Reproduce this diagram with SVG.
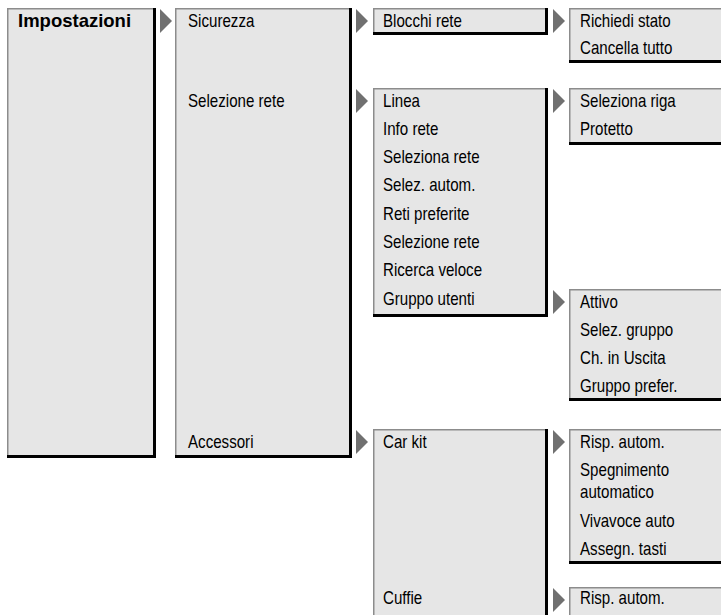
<svg xmlns="http://www.w3.org/2000/svg" width="721" height="615" viewBox="0 0 721 615">
<style>
.bg{fill:#e6e6e6}
.lt{fill:none;stroke:#8c8c8c;stroke-width:1.5}
.dk{fill:none;stroke:#000;stroke-width:3}
.t{font-family:"Liberation Sans",Arial,sans-serif;font-size:18px;fill:#000}
.b{font-family:"Liberation Sans",Arial,sans-serif;font-size:18.5px;font-weight:bold;fill:#000}
.ar{fill:#707070}
</style>
<rect width="721" height="615" fill="#fff"/>
<g id="connectors">
<path class="ar" d="M160 9L172 21L160 33Z"/>
<path class="ar" d="M356 9L368 21L356 33Z"/>
<path class="ar" d="M553 9L565 21L553 33Z"/>
<path class="ar" d="M356 89L368 101L356 113Z"/>
<path class="ar" d="M553 89L565 101L553 113Z"/>
<path class="ar" d="M553 290L565 302L553 314Z"/>
<path class="ar" d="M356 430L368 442L356 454Z"/>
<path class="ar" d="M553 430L565 442L553 454Z"/>
<path class="ar" d="M553 588L565 600L553 612Z"/>
</g>
<g id="impostazioni">
<rect class="bg" x="7" y="8" width="149" height="450"/>
<path class="lt" d="M7.75 458V8.75H156"/>
<path class="dk" d="M7 456.5H154.5V8"/>
<text class="b" x="18" y="27">Impostazioni</text>
</g>
<g id="col2">
<rect class="bg" x="175" y="8" width="177" height="450"/>
<path class="lt" d="M175.75 458V8.75H352"/>
<path class="dk" d="M175 456.5H350.5V8"/>
<text class="t" transform="translate(188,26.5) scale(0.84,1)">Sicurezza</text>
<text class="t" transform="translate(188,106.5) scale(0.84,1)">Selezione rete</text>
<text class="t" transform="translate(188,447.5) scale(0.84,1)">Accessori</text>
</g>
<g id="blocchi">
<rect class="bg" x="373" y="8" width="175" height="27"/>
<path class="lt" d="M373.75 35V8.75H548"/>
<path class="dk" d="M373 33.5H546.5V8"/>
<text class="t" transform="translate(383,26.5) scale(0.84,1)">Blocchi rete</text>
</g>
<g id="stato">
<rect class="bg" x="569" y="8" width="155" height="55"/>
<path class="lt" d="M569.75 63V8.75H724"/>
<path class="dk" d="M569 61.5H724"/>
<text class="t" transform="translate(580,26.5) scale(0.84,1)">Richiedi stato</text>
<text class="t" transform="translate(580,54) scale(0.84,1)">Cancella tutto</text>
</g>
<g id="linea">
<rect class="bg" x="373" y="88" width="175" height="229"/>
<path class="lt" d="M373.75 317V88.75H548"/>
<path class="dk" d="M373 315.5H546.5V88"/>
<text class="t" transform="translate(383,106.5) scale(0.84,1)">Linea</text>
<text class="t" transform="translate(383,134.8) scale(0.84,1)">Info rete</text>
<text class="t" transform="translate(383,163.1) scale(0.84,1)">Seleziona rete</text>
<text class="t" transform="translate(383,191.4) scale(0.84,1)">Selez. autom.</text>
<text class="t" transform="translate(383,219.7) scale(0.84,1)">Reti preferite</text>
<text class="t" transform="translate(383,248) scale(0.84,1)">Selezione rete</text>
<text class="t" transform="translate(383,276.3) scale(0.84,1)">Ricerca veloce</text>
<text class="t" transform="translate(383,304.6) scale(0.84,1)">Gruppo utenti</text>
</g>
<g id="riga">
<rect class="bg" x="569" y="88" width="155" height="57"/>
<path class="lt" d="M569.75 145V88.75H724"/>
<path class="dk" d="M569 143.5H724"/>
<text class="t" transform="translate(580,106.5) scale(0.84,1)">Seleziona riga</text>
<text class="t" transform="translate(580,134.8) scale(0.84,1)">Protetto</text>
</g>
<g id="attivo">
<rect class="bg" x="569" y="289" width="155" height="112"/>
<path class="lt" d="M569.75 401V289.75H724"/>
<path class="dk" d="M569 399.5H724"/>
<text class="t" transform="translate(580,307.5) scale(0.84,1)">Attivo</text>
<text class="t" transform="translate(580,335.8) scale(0.84,1)">Selez. gruppo</text>
<text class="t" transform="translate(580,364.1) scale(0.84,1)">Ch. in Uscita</text>
<text class="t" transform="translate(580,392.4) scale(0.84,1)">Gruppo prefer.</text>
</g>
<g id="carkit">
<rect class="bg" x="373" y="429" width="175" height="189"/>
<path class="lt" d="M373.75 618V429.75H548"/>
<path class="dk" d="M546.5 618V429"/>
<text class="t" transform="translate(383,447.5) scale(0.84,1)">Car kit</text>
<text class="t" transform="translate(383,604) scale(0.84,1)">Cuffie</text>
</g>
<g id="rispauto">
<rect class="bg" x="569" y="429" width="155" height="135"/>
<path class="lt" d="M569.75 564V429.75H724"/>
<path class="dk" d="M569 562.5H724"/>
<text class="t" transform="translate(580,447.5) scale(0.84,1)">Risp. autom.</text>
<text class="t" transform="translate(580,476) scale(0.84,1)">Spegnimento</text>
<text class="t" transform="translate(580,498) scale(0.84,1)">automatico</text>
<text class="t" transform="translate(580,526.5) scale(0.84,1)">Vivavoce auto</text>
<text class="t" transform="translate(580,554.5) scale(0.84,1)">Assegn. tasti</text>
</g>
<g id="cuffie">
<rect class="bg" x="569" y="587" width="155" height="31"/>
<path class="lt" d="M569.75 618V587.75H724"/>
<text class="t" transform="translate(580,604) scale(0.84,1)">Risp. autom.</text>
</g>
</svg>
